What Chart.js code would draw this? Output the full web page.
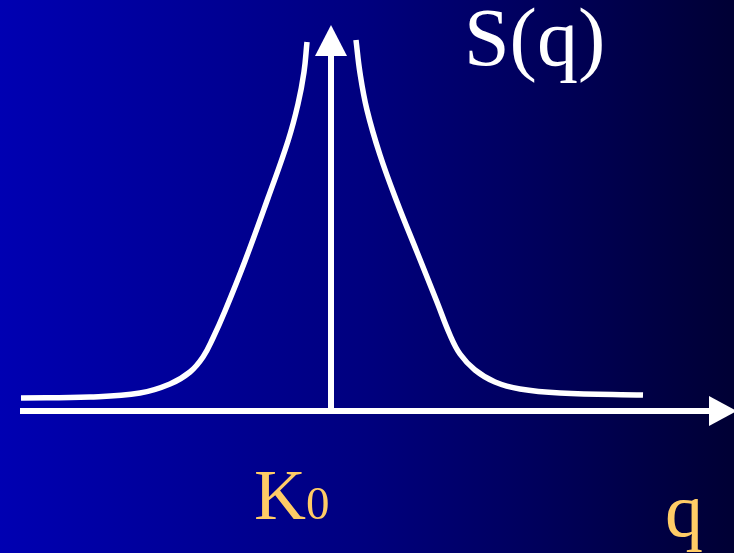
<!DOCTYPE html>
<html>
<head>
<meta charset="utf-8">
<script src="https://cdn.jsdelivr.net/npm/chart.js@4"></script>
<style>
  html, body { margin: 0; padding: 0; width: 734px; height: 553px; overflow: hidden; }
  body { background: linear-gradient(to right, #0000b2 0%, #00007e 50%, #000034 100%); }
  #wrap { position: relative; width: 734px; height: 553px; }
</style>
</head>
<body>
<div id="wrap"><canvas id="sq-chart"></canvas></div>
<script>
// S(q) peak around K0 -- the two branches on either side of the vertical axis
const leftQ  = [-3.10, -2.41, -1.91, -1.61, -1.41, -1.28, -1.18, -1.06, -0.86, -0.63, -0.43, -0.33, -0.27, -0.24];
const leftS  = [ 0.13,  0.14,  0.18,  0.27,  0.39,  0.54,  0.73,  1.00,  1.50,  2.13,  2.70,  3.07,  3.39,  3.69];
const rightQ = [0.25, 0.29, 0.36, 0.49, 0.66, 0.86, 1.06, 1.19, 1.29, 1.44, 1.64, 1.89, 2.29, 3.12];
const rightS = [3.71, 3.38, 3.01, 2.56, 2.09, 1.59, 1.09, 0.76, 0.57, 0.41, 0.29, 0.22, 0.18, 0.16];

// axis extents (data units)
const qAxis = [-3.11, 4.06];
const sAxis = [0, 3.86];
const peakLabel = 'K';
const peakSub = '0';
const yTitle = 'S(q)';
const xTitle = 'q';

const SERIF = '"Liberation Serif", "Times New Roman", Times, serif';

const toPoints = (qs, ss) => qs.map((q, i) => ({ x: q, y: ss[i] }));

const axesPlugin = {
    id: 'arrowAxes',
    afterDatasetsDraw(chart) {
        const { ctx, scales: { x, y } } = chart;
        const x0 = x.getPixelForValue(0);
        const y0 = y.getPixelForValue(0);
        const xStart = x.getPixelForValue(qAxis[0]);
        const xEnd = x.getPixelForValue(qAxis[1]);
        const yEnd = y.getPixelForValue(sAxis[1]);
        ctx.save();
        ctx.strokeStyle = '#fff';
        ctx.fillStyle = '#fff';
        ctx.lineWidth = 6;

        // q axis
        ctx.beginPath();
        ctx.moveTo(xStart, y0);
        ctx.lineTo(xEnd - 28, y0);
        ctx.stroke();
        ctx.beginPath();
        ctx.moveTo(xEnd - 28, y0 - 15);
        ctx.lineTo(xEnd, y0);
        ctx.lineTo(xEnd - 28, y0 + 15);
        ctx.closePath();
        ctx.fill();

        // S axis
        ctx.beginPath();
        ctx.moveTo(x0, y0);
        ctx.lineTo(x0, yEnd + 30);
        ctx.stroke();
        ctx.beginPath();
        ctx.moveTo(x0 - 16, yEnd + 31);
        ctx.lineTo(x0, yEnd);
        ctx.lineTo(x0 + 16, yEnd + 31);
        ctx.closePath();
        ctx.fill();

        // labels
        ctx.textBaseline = 'alphabetic';
        ctx.textAlign = 'left';
        ctx.font = '82px ' + SERIF;
        ctx.fillStyle = '#fff';
        ctx.fillText(yTitle, x0 + 133, 65);

        ctx.fillStyle = '#ffcc66';
        ctx.font = '72px ' + SERIF;
        ctx.fillText(peakLabel, x0 - 77, y0 + 108);
        const kw = ctx.measureText(peakLabel).width;
        ctx.font = '47px ' + SERIF;
        ctx.fillText(peakSub, x0 - 77 + kw, y0 + 108);

        ctx.font = '76px ' + SERIF;
        ctx.fillText(xTitle, x0 + 334, y0 + 125);
        ctx.restore();
    }
};

const lineStyle = {
    borderColor: '#fff',
    borderWidth: 5.5,
    pointRadius: 0,
    fill: false,
    tension: 0.4
};

function drawChart() {
    new Chart(document.getElementById('sq-chart'), {
        type: 'line',
        data: {
            datasets: [
                { label: 'left', data: toPoints(leftQ, leftS), ...lineStyle },
                { label: 'right', data: toPoints(rightQ, rightS), ...lineStyle }
            ]
        },
        options: {
            responsive: true,
            maintainAspectRatio: false,
            animation: false,
            layout: { padding: 0 },
            plugins: { legend: { display: false }, tooltip: { enabled: false } },
            scales: {
                x: { type: 'linear', min: -3.31, max: 4.03, display: false },
                y: { type: 'linear', min: -1.42, max: 4.11, display: false }
            }
        },
        plugins: [axesPlugin]
    });
}

Promise.all([
    document.fonts.load('82px "Liberation Serif"'),
    document.fonts.load('47px "Liberation Serif"')
]).catch(() => {}).then(drawChart);
</script>
</body>
</html>
